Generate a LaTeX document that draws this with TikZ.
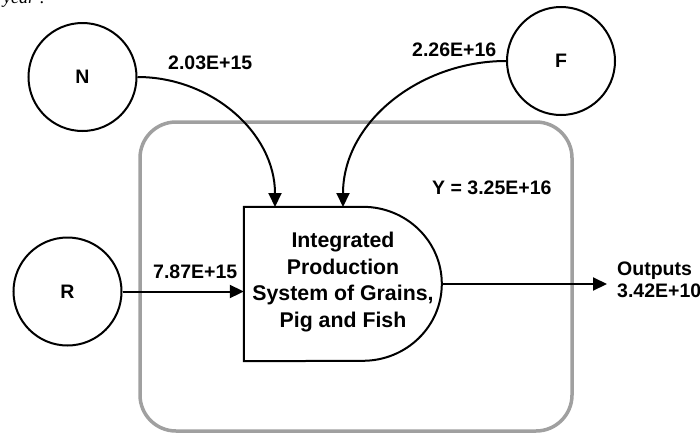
\documentclass[tikz,border=0pt]{standalone}
\usepackage{fontspec}
\setmainfont{Liberation Sans}
\newfontfamily\captionserif{Liberation Serif}
\usetikzlibrary{arrows.meta}

\begin{document}
\begin{tikzpicture}[x=1pt,y=-1pt,
  source/.style={circle,draw,line width=2pt,minimum size=108pt,inner sep=0pt,
    font=\fontsize{19.5}{22}\selectfont\bfseries},
  flow/.style={line width=2pt,-{Triangle[length=14pt,width=13pt]}},
  lbl/.style={font=\fontsize{19.5}{22}\selectfont\bfseries,inner sep=0pt,anchor=base west},
  boundary/.style={line width=3.5pt,draw={rgb,255:red,160;green,160;blue,160},rounded corners=36pt},
]
\useasboundingbox (0,0) rectangle (700,434);
\fill[white] (0,0) rectangle (700,434);

% caption line running in from above
\node[font=\fontsize{18}{20}\selectfont\captionserif\itshape,anchor=base west,inner sep=0pt] (cap) at (3,3) {year :};

% system boundary
\draw[boundary] (140,122) rectangle (572,431);

% sources
\node[source] (N) at (82.5,77) {N};
\node[source] (F) at (561,61) {F};
\node[source] (R) at (67.5,291.5) {R};

% production process
\node[minimum width=198pt,minimum height=154pt,inner sep=0pt] (sys) at (343,284) {};
\draw[line width=2pt] (sys.north west) -- ++(119,0)
  arc[start angle=90,end angle=-90,x radius=79pt,y radius=77pt]
  -- (sys.south west) -- cycle;
\node[align=center,inner sep=0pt,font=\fontsize{21.3}{26.5}\selectfont\bfseries] (systext) at (343,282)
  {Integrated\\Production\\System of Grains,\\Pig and Fish};

\coordinate (nIn) at (275,207);
\coordinate (fIn) at (343,207);
\coordinate (outEnd) at (607,284);

% flows
\draw[flow] (N.east) to[out=0,in=90] (nIn);
\draw[flow] (F.west) to[out=180,in=90] (fIn);
\draw[flow] (R.east) -- (R.east -| sys.west);
\draw[flow] (sys.east) -- (outEnd);

% flow values
\node[lbl] (lN) at (168,69) {2.03E+15};
\node[lbl] (lF) at (412,56) {2.26E+16};
\node[lbl] (lR) at (153,278) {7.87E+15};
\node[lbl] (lY) at (432,194) {Y = 3.25E+16};
\node[lbl] (lOut1) at (617,275) {Outputs};
\node[lbl] (lOut2) at (617,297) {3.42E+10};
\end{tikzpicture}
\end{document}
